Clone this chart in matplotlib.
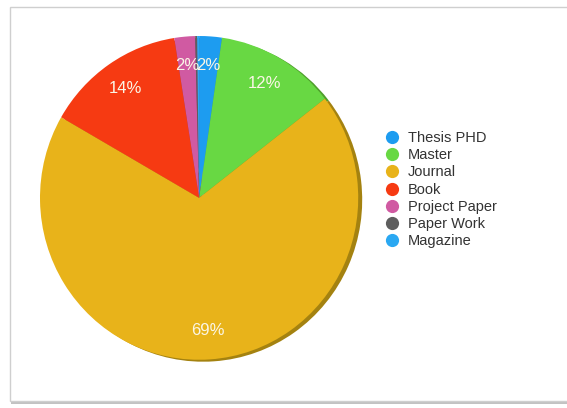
import matplotlib.pyplot as plt
from matplotlib.lines import Line2D
from matplotlib.patches import Rectangle

plt.rcParams['font.family'] = ['Liberation Sans', 'DejaVu Sans']

# data (clockwise from the top)
categories = ["Thesis PHD", "Master", "Journal", "Book",
              "Project Paper", "Paper Work", "Magazine"]
shares = [2.3, 12.2, 68.8, 14.2, 2.1, 0.2, 0.2]
colors = ["#1d9cf0", "#68d843", "#e8b31a", "#f63a12",
          "#d05aa2", "#5e5e5e", "#2aa8f2"]
rim_colors = ["#1a7fc4", "#4f9e2c", "#a48210", "#b02a0c",
              "#9a3f78", "#3e3e3e", "#1f80bb"]


def pct_label(p):
    return f"{p:.0f}%" if p >= 1 else ""


fig = plt.figure(figsize=(5.67, 4.08), dpi=100)
W, H = 567, 408

# picture frame with a soft shadow
fig.patches.append(Rectangle((11 / W, 4 / H), 570 / W, 397 / H,
                             transform=fig.transFigure, facecolor="#9a9a9a",
                             edgecolor="none", alpha=0.6, zorder=-2))
fig.patches.append(Rectangle((10 / W, 7 / H), 570 / W, 394 / H,
                             transform=fig.transFigure, facecolor="white",
                             edgecolor="#cfcfcf", linewidth=1.0, zorder=-1))

ax = fig.add_axes([40 / W, 45 / H, 323 / W, 327 / H])
ax.set_zorder(1)

# darker rim under the pie for the tilted look
ax.pie(shares, colors=rim_colors, startangle=90, counterclock=False,
       center=(0.025, -0.012), radius=1.0,
       wedgeprops=dict(linewidth=0))
wedges, texts, autotexts = ax.pie(
    shares, colors=colors, startangle=90, counterclock=False,
    autopct=pct_label, pctdistance=0.82, radius=1.0,
    wedgeprops=dict(linewidth=0),
    textprops=dict(color="#fbf6e6", fontsize=12))
ax.set_aspect("auto")
ax.set_xlim(-1.0, 1.03)
ax.set_ylim(-1.02, 1.0)

handles = [Line2D([], [], marker="o", linestyle="none", markersize=9.5,
                  markerfacecolor=c, markeredgecolor="none") for c in colors]
leg = fig.legend(handles, categories, loc="upper left",
                 bbox_to_anchor=(383 / W, 1 - 131 / H), frameon=False,
                 fontsize=10.5, labelspacing=0.22, handletextpad=0.5,
                 handlelength=1.2, borderpad=0, borderaxespad=0)
for t in leg.get_texts():
    t.set_color("#333333")
leg.set_zorder(2)

fig.savefig("out.png", dpi=100)
